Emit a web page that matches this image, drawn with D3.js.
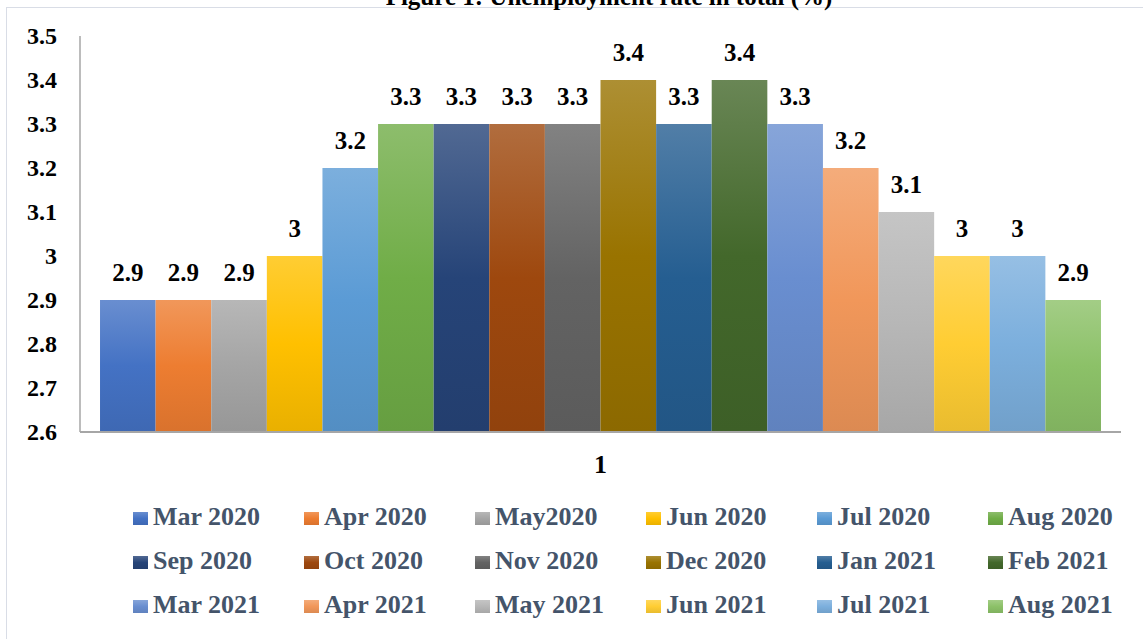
<!DOCTYPE html>
<html>
<head>
<meta charset="utf-8">
<script src="https://cdn.jsdelivr.net/npm/d3@7"></script>
<style>
  html, body { margin: 0; padding: 0; background: #fff; }
</style>
</head>
<body>
<div id="chart"></div>
<script>
// data
var categories = ['1'];
var months = ['Mar 2020','Apr 2020','May2020','Jun 2020','Jul 2020','Aug 2020',
              'Sep 2020','Oct 2020','Nov 2020','Dec 2020','Jan 2021','Feb 2021',
              'Mar 2021','Apr 2021','May 2021','Jun 2021','Jul 2021','Aug 2021'];
var rates = [2.9,2.9,2.9,3.0,3.2,3.3, 3.3,3.3,3.3,3.4,3.3,3.4, 3.3,3.2,3.1,3.0,3.0,2.9];
var yTicks = [2.6,2.7,2.8,2.9,3.0,3.1,3.2,3.3,3.4,3.5];
var colors = ['#4472c4','#ed7d31','#a5a5a5','#ffc000','#5b9bd5','#70ad47',
              '#264478','#9e480e','#636363','#997300','#255e91','#43682b',
              '#698ed0','#f1975a','#b7b7b7','#ffcd33','#7cafdd','#8cc168'];
var title = 'Figure 1: Unemployment rate in total (%)';

var W = 1143, H = 639;
var FONT = "'Liberation Serif', 'DejaVu Serif', serif";
var frame = { left: 80, right: 1121, top: 36, bottom: 432 };

var svg = d3.select('#chart').append('svg')
  .attr('width', W).attr('height', H)
  .style('font-family', FONT).style('font-weight', 'bold');

var defs = svg.append('defs');
colors.forEach(function(c, i) {
  var g = defs.append('linearGradient').attr('id', 'grad' + i)
    .attr('x1', 0).attr('y1', 0).attr('x2', 0).attr('y2', 1);
  g.append('stop').attr('offset', '0%').attr('stop-color', d3.interpolateRgb(c, '#fff')(0.2));
  g.append('stop').attr('offset', '50%').attr('stop-color', c);
  g.append('stop').attr('offset', '100%').attr('stop-color', d3.color(c).darker(0.25));
});

// outer chart frame
svg.append('rect').attr('x', 6.5).attr('y', 7.5).attr('width', W).attr('height', H)
  .attr('fill', 'none').attr('stroke', '#d9dde6').attr('stroke-width', 1);

svg.append('text').attr('x', 609).attr('y', 5).attr('text-anchor', 'middle')
  .style('font-family', FONT).attr('font-size', 25).attr('fill', '#000').text(title);

var y = d3.scaleLinear().domain([2.6, 3.5]).range([frame.bottom, frame.top]);
var x0 = d3.scaleBand().domain(categories).range([frame.left, frame.right])
  .paddingInner(0).paddingOuter(0.02);
var x1 = d3.scaleBand().domain(months).range([0, x0.bandwidth()]).padding(0);

// y tick labels
svg.append('g').selectAll('text').data(yTicks).join('text')
  .attr('x', 57).attr('y', function(d) { return y(d); })
  .attr('dy', '0.35em').attr('text-anchor', 'end')
  .style('font-family', FONT).attr('font-size', 24).attr('fill', '#000')
  .text(function(d) { return d3.format('~g')(d); });

var grp = svg.append('g').attr('transform', 'translate(' + x0('1') + ',0)');

grp.selectAll('rect').data(rates).join('rect')
  .attr('x', function(d, i) { return x1(months[i]); })
  .attr('y', function(d) { return y(d); })
  .attr('width', x1.bandwidth())
  .attr('height', function(d) { return y(2.6) - y(d); })
  .attr('fill', function(d, i) { return 'url(#grad' + i + ')'; });

grp.selectAll('text.val').data(rates).join('text')
  .attr('class', 'val')
  .attr('x', function(d, i) { return x1(months[i]) + x1.bandwidth() / 2; })
  .attr('y', function(d) { return y(d) - 19; })
  .attr('text-anchor', 'middle').style('font-family', FONT)
  .attr('font-size', 25).attr('fill', '#000')
  .text(function(d) { return d3.format('~g')(d); });

// axis lines
svg.append('line').attr('x1', frame.left).attr('x2', frame.left)
  .attr('y1', frame.top).attr('y2', frame.bottom)
  .attr('stroke', '#a6a6a6').attr('stroke-width', 1.5);
svg.append('line').attr('x1', frame.left).attr('x2', frame.right)
  .attr('y1', frame.bottom).attr('y2', frame.bottom)
  .attr('stroke', '#a6a6a6').attr('stroke-width', 2);

// category label
svg.append('text').attr('x', x0('1') + x0.bandwidth() / 2).attr('y', 473)
  .attr('text-anchor', 'middle').style('font-family', FONT)
  .attr('font-size', 26).attr('fill', '#000')
  .text(categories[0]);

// legend
var legend = { left: 133, colStep: 171, top: 525, rowStep: 44, cols: 6 };
var li = svg.append('g').selectAll('g').data(months).join('g')
  .attr('transform', function(d, i) {
    return 'translate(' + (legend.left + (i % legend.cols) * legend.colStep) + ',' +
      (legend.top + Math.floor(i / legend.cols) * legend.rowStep) + ')';
  });
li.append('rect').attr('x', 0).attr('y', -13).attr('width', 15).attr('height', 13)
  .attr('fill', function(d, i) { return 'url(#grad' + i + ')'; });
li.append('text').attr('x', 20).attr('y', 0).style('font-family', FONT)
  .attr('font-size', 26).attr('fill', '#44546a')
  .text(function(d) { return d; });
</script>
</body>
</html>
